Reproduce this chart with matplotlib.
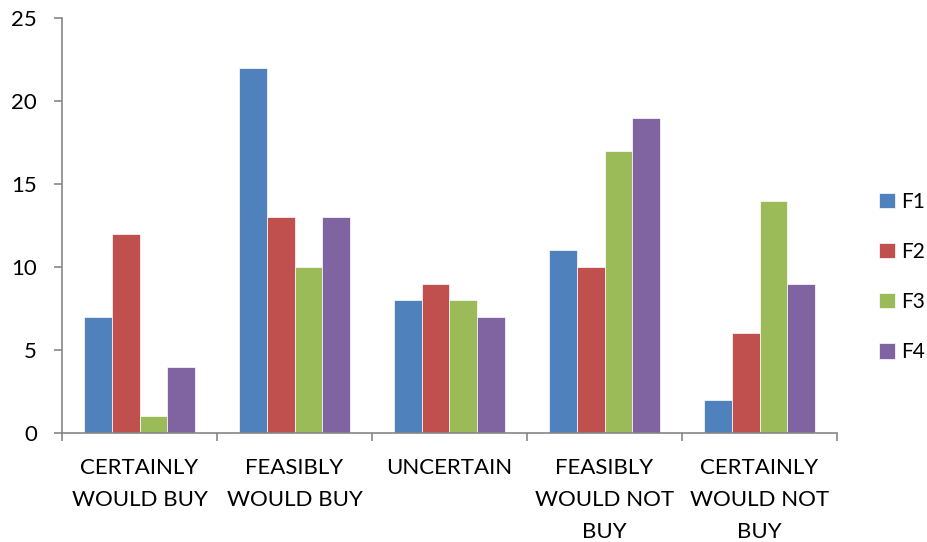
import numpy as np
import matplotlib.pyplot as plt

plt.rcParams['font.family'] = ['Lato', 'DejaVu Sans']

categories = ['CERTAINLY\nWOULD BUY', 'FEASIBLY\nWOULD BUY', 'UNCERTAIN',
              'FEASIBLY\nWOULD NOT\nBUY', 'CERTAINLY\nWOULD NOT\nBUY']
series = ['F1', 'F2', 'F3', 'F4']
f1 = [7, 22, 8, 11, 2]
f2 = [12, 13, 9, 10, 6]
f3 = [1, 10, 8, 17, 14]
f4 = [4, 13, 7, 19, 9]
colors = ['#4F81BD', '#C0504D', '#9BBB59', '#8064A2']

fig = plt.figure(figsize=(9.27, 5.42), dpi=100)
ax = fig.add_axes([62/927, 1 - 433/542, (837-62)/927, (433-18)/542])

x = np.arange(len(categories))
w = 0.18
for i, (vals, name) in enumerate(zip([f1, f2, f3, f4], series)):
    ax.bar(x + (i - 1.5) * w, vals, w, color=colors[i], label=name,
           edgecolor='white', linewidth=0.5)

ax.set_xlim(-0.5, len(categories) - 0.5)
ax.set_ylim(0, 25)
ax.set_yticks([0, 5, 10, 15, 20, 25])
ax.set_xticks(x)
ax.set_xticklabels(categories, fontsize=16, linespacing=1.75, va='top')
ax.set_xticks(np.arange(len(categories) + 1) - 0.5, minor=True)
ax.tick_params(axis='x', which='major', length=0, pad=18)
ax.tick_params(axis='x', which='minor', length=6, color='#868686', width=1.2)
ax.tick_params(axis='y', length=6, color='#868686', width=1.2, labelsize=16, pad=12)
for s in ['top', 'right']:
    ax.spines[s].set_visible(False)
for s in ['left', 'bottom']:
    ax.spines[s].set_color('#868686')
    ax.spines[s].set_linewidth(1.2)

handles, labels = ax.get_legend_handles_labels()
fig.legend(handles, labels, loc='center left', bbox_to_anchor=(879/927, 1 - 277/542),
           frameon=False, fontsize=15, handlelength=0.75, handleheight=0.75,
           labelspacing=1.45, handletextpad=0.3, borderpad=0, borderaxespad=0)

fig.savefig('out.png', dpi=100)
